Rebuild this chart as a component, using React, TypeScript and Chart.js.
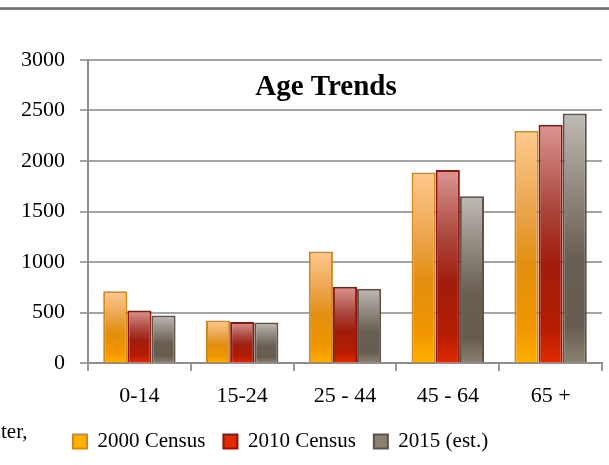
import React, { useEffect, useRef } from "react";
import { Chart, registerables } from "chart.js";

Chart.register(...registerables);

const categories = ["0-14", "15-24", "25 - 44", "45 - 64", "65 +"];
const census2000 = [710, 420, 1105, 1885, 2300];
const census2010 = [520, 405, 755, 1910, 2360];
const est2015 = [470, 400, 735, 1650, 2470];
const seriesNames = ["2000 Census", "2010 Census", "2015 (est.)"];
const yMin = 0;
const yMax = 3000;
const yStep = 500;
const chartTitle = "Age Trends";

const FONT = "'Liberation Serif', 'Times New Roman', serif";

type Stop = [number, string];

const stops2000: Stop[] = [
  [0, "#FFCA8E"],
  [0.35, "#EBA34A"],
  [0.58, "#E28E0E"],
  [0.85, "#F29600"],
  [1, "#FFB000"],
];
const stops2010: Stop[] = [
  [0, "#DC9592"],
  [0.35, "#AA463C"],
  [0.58, "#A11C0C"],
  [0.85, "#B51C02"],
  [1, "#E02A00"],
];
const stops2015: Stop[] = [
  [0, "#BFBAB4"],
  [0.35, "#8B8278"],
  [0.58, "#685E52"],
  [0.85, "#665C4F"],
  [1, "#8C8170"],
];

function gradient(stops: Stop[], solid: string) {
  return (ctx: any) => {
    const chart = ctx.chart;
    const y = chart.scales && chart.scales.y;
    if (!y || ctx.type !== "data" || ctx.raw == null) return solid;
    const top = y.getPixelForValue(ctx.raw);
    const base = y.getPixelForValue(0);
    if (!isFinite(top) || !isFinite(base) || top === base) return solid;
    const g = chart.ctx.createLinearGradient(0, top, 0, base);
    stops.forEach(([o, c]) => g.addColorStop(o, c));
    return g;
  };
}

const titlePlugin = {
  id: "innerTitle",
  afterDraw(chart: any) {
    const { ctx } = chart;
    ctx.save();
    ctx.font = `bold 29px ${FONT}`;
    ctx.fillStyle = "#000";
    ctx.textAlign = "center";
    ctx.textBaseline = "alphabetic";
    ctx.fillText(chartTitle, 326, 95);
    ctx.restore();
  },
};

// shift the legend row to the right, as in the reference
const legendShift = {
  id: "legendShift",
  afterLayout(chart: any) {
    const lg = chart.legend;
    if (lg) {
      lg.left += 55;
      lg.right += 55;
    }
  },
};

export default function App() {
  const ref = useRef<HTMLCanvasElement>(null);

  useEffect(() => {
    if (!ref.current) return;
    const chart = new Chart(ref.current, {
      type: "bar",
      data: {
        labels: categories,
        datasets: [
          {
            label: seriesNames[0],
            data: census2000,
            backgroundColor: gradient(stops2000, "#EE920C"),
            borderColor: "#D4871C",
            borderWidth: 2,
          },
          {
            label: seriesNames[1],
            data: census2010,
            backgroundColor: gradient(stops2010, "#B02010"),
            borderColor: "#8E160C",
            borderWidth: 2,
          },
          {
            label: seriesNames[2],
            data: est2015,
            backgroundColor: gradient(stops2015, "#71665A"),
            borderColor: "#5C5248",
            borderWidth: 2,
          },
        ],
      },
      options: {
        responsive: false,
        animation: false,
        devicePixelRatio: 1,
        layout: { padding: { left: 0, right: 7, top: 60, bottom: 3 } },
        datasets: {
          bar: { categoryPercentage: 0.704, barPercentage: 1 },
        },
        scales: {
          x: {
            offset: true,
            afterFit: (s: any) => {
              s.height = 50;
            },
            grid: {
              display: true,
              offset: true,
              drawOnChartArea: false,
              drawTicks: true,
              tickLength: 8,
              color: "#9A9A9A",
              lineWidth: 2,
            },
            border: { display: true, color: "#8E8E8E", width: 2 },
            ticks: {
              color: "#000",
              padding: 12,
              font: { family: FONT, size: 22 },
            },
          },
          y: {
            min: yMin,
            max: yMax,
            afterFit: (s: any) => {
              s.width = 88;
            },
            grid: {
              color: "#A4A4A4",
              lineWidth: 2,
              drawTicks: true,
              tickLength: 8,
            },
            border: { display: true, color: "#8E8E8E", width: 2 },
            ticks: {
              stepSize: yStep,
              color: "#000",
              padding: 15,
              font: { family: FONT, size: 22 },
              callback: (v: any) => String(v),
            },
          },
        },
        plugins: {
          title: { display: false },
          tooltip: { enabled: false },
          legend: {
            position: "bottom",
            align: "start",
            labels: {
              boxWidth: 14,
              boxHeight: 14,
              padding: 18,
              color: "#000",
              font: { family: FONT, size: 21, lineHeight: 1 },
            },
          },
        },
      },
      plugins: [titlePlugin, legendShift],
    } as any);
    return () => chart.destroy();
  }, []);

  return (
    <div
      style={{
        position: "fixed",
        left: 0,
        top: 0,
        width: 609,
        height: 465,
        background: "#fff",
        overflow: "hidden",
      }}
    >
      <div
        style={{
          position: "absolute",
          left: 0,
          top: 7,
          width: 609,
          height: 3,
          background: "linear-gradient(#9a9a9a, #6e6e6e, #8a8a8a)",
        }}
      />
      <canvas ref={ref} width={609} height={465} style={{ display: "block" }} />
      <div
        style={{
          position: "absolute",
          left: 1,
          top: 419,
          fontFamily: FONT,
          fontSize: 21,
          lineHeight: "24px",
          color: "#000",
        }}
      >
        ter,
      </div>
    </div>
  );
}
